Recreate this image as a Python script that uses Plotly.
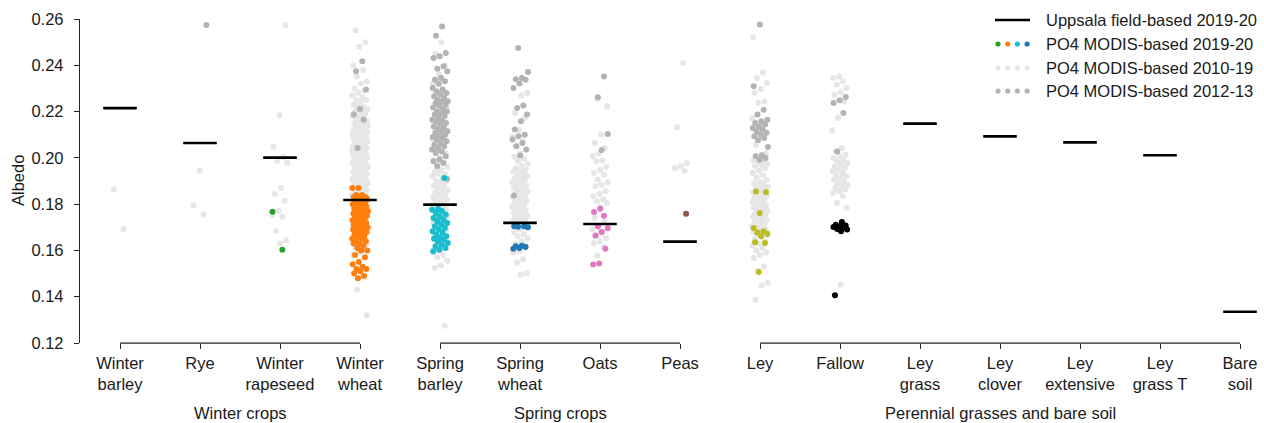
import numpy as np
import plotly.graph_objects as go

# ---------------- data ----------------
CATEGORIES = ["Winter<br>barley", "Rye", "Winter<br>rapeseed", "Winter<br>wheat",
              "Spring<br>barley", "Spring<br>wheat", "Oats", "Peas",
              "Ley", "Fallow", "Ley<br>grass", "Ley<br>clover", "Ley<br>extensive",
              "Ley<br>grass T", "Bare<br>soil"]
GROUP_LABELS = ["Winter crops", "Spring crops", "Perennial grasses and bare soil"]
GROUP_SPANS = [(0, 3), (4, 7), (8, 14)]

# Uppsala field-based 2019-20 (None = no field measurement)
FIELD_MEAN = [0.2215, 0.2064, 0.2001, 0.1818, 0.1798, 0.1719, 0.1714, 0.1638,
              None, None, 0.2148, 0.2093, 0.2067, 0.2011, 0.1335]

# PO4 MODIS-based 2010-19 (light grey)
WB_1019 = [0.1864, 0.1691]
RYE_1019 = [0.1945, 0.1795, 0.1754]
WR_1019 = [0.2574, 0.2184, 0.2048, 0.2004, 0.1988, 0.1979, 0.1870, 0.1844, 0.1814,
           0.1770, 0.1753, 0.1746, 0.1684, 0.1643, 0.1630]
WW_1019 = [0.255, 0.250, 0.248, 0.240, 0.238, 0.235, 0.233, 0.232, 0.230, 0.229, 0.228,
           0.227, 0.226, 0.225, 0.225, 0.224, 0.223, 0.222, 0.222, 0.221, 0.220, 0.220,
           0.219, 0.218, 0.218, 0.217, 0.217, 0.216, 0.216, 0.215, 0.215, 0.214, 0.214,
           0.214, 0.213, 0.213, 0.213, 0.212, 0.212, 0.212, 0.211, 0.211, 0.211, 0.210,
           0.210, 0.210, 0.209, 0.209, 0.209, 0.208, 0.208, 0.208, 0.207, 0.207, 0.207,
           0.206, 0.206, 0.206, 0.205, 0.205, 0.205, 0.204, 0.204, 0.204, 0.203, 0.203,
           0.203, 0.202, 0.202, 0.202, 0.201, 0.201, 0.201, 0.200, 0.200, 0.200, 0.199,
           0.199, 0.199, 0.198, 0.198, 0.198, 0.197, 0.197, 0.197, 0.196, 0.196, 0.196,
           0.195, 0.195, 0.195, 0.194, 0.194, 0.194, 0.193, 0.193, 0.193, 0.192, 0.192,
           0.192, 0.191, 0.191, 0.191, 0.190, 0.190, 0.190, 0.189, 0.189, 0.189, 0.188,
           0.188, 0.188, 0.187, 0.187, 0.187, 0.186, 0.186, 0.186, 0.185, 0.185, 0.184,
           0.184, 0.183, 0.182, 0.181, 0.180, 0.179, 0.178, 0.177, 0.176, 0.175, 0.174,
           0.173, 0.172, 0.171, 0.170, 0.169, 0.168, 0.167, 0.166, 0.165, 0.164, 0.163,
           0.162, 0.161, 0.160, 0.159, 0.158, 0.149, 0.143, 0.132]
SB_1019 = [0.250, 0.245, 0.240, 0.236, 0.232, 0.228, 0.225, 0.222, 0.219, 0.216, 0.213,
           0.210, 0.208, 0.206, 0.204, 0.202, 0.200, 0.199, 0.198, 0.197, 0.196, 0.195,
           0.194, 0.193, 0.193, 0.192, 0.191, 0.190, 0.190, 0.189, 0.188, 0.188, 0.187,
           0.186, 0.186, 0.185, 0.184, 0.184, 0.183, 0.183, 0.182, 0.182, 0.181, 0.181,
           0.180, 0.180, 0.179, 0.179, 0.178, 0.178, 0.177, 0.177, 0.176, 0.176, 0.175,
           0.175, 0.174, 0.174, 0.173, 0.172, 0.171, 0.170, 0.169, 0.168, 0.167, 0.166,
           0.165, 0.164, 0.163, 0.162, 0.161, 0.160, 0.159, 0.158, 0.157, 0.1555, 0.1535,
           0.1525, 0.1275]
SW_1019 = [0.2280, 0.2269, 0.2194, 0.2172, 0.2120, 0.2090, 0.2070, 0.2050, 0.2035, 0.2020,
           0.2005, 0.1995, 0.1985, 0.1975, 0.1965, 0.1955, 0.1950, 0.1945, 0.1940, 0.1930,
           0.1925, 0.1920, 0.1915, 0.1910, 0.1905, 0.1900, 0.1895, 0.1890, 0.1885, 0.1880,
           0.1875, 0.1870, 0.1865, 0.1860, 0.1855, 0.1850, 0.1845, 0.1840, 0.1835, 0.1830,
           0.1825, 0.1820, 0.1815, 0.1810, 0.1805, 0.1800, 0.1795, 0.1790, 0.1785, 0.1780,
           0.1775, 0.1770, 0.1765, 0.1760, 0.1755, 0.1750, 0.1745, 0.1740, 0.1735, 0.1730,
           0.1725, 0.1720, 0.1710, 0.1700, 0.1690, 0.1680, 0.1670, 0.1660, 0.1650, 0.1640,
           0.1630, 0.1620, 0.1596, 0.1590, 0.1562, 0.1547, 0.1503, 0.1496]
OAT_1019 = [0.2256, 0.2223, 0.2100, 0.2064, 0.2043, 0.2020, 0.2007, 0.1989, 0.1985,
            0.1960, 0.1949, 0.1935, 0.1927, 0.1906, 0.1895, 0.1884, 0.1877, 0.1856,
            0.1845, 0.1834, 0.1820, 0.1812, 0.1805, 0.1788, 0.1740, 0.1726, 0.1700,
            0.1690, 0.1678, 0.1661, 0.1654, 0.1640, 0.1632, 0.1615, 0.1578]
PEA_1019 = [0.2410, 0.2132, 0.1978, 0.1964, 0.1956, 0.1943]
LEY_1019 = [0.2521, 0.2370, 0.2345, 0.2323, 0.2298, 0.2280, 0.2244, 0.2237, 0.2172,
            0.2096, 0.2057, 0.2020, 0.1995, 0.1990, 0.1985, 0.1980, 0.1975, 0.1970,
            0.1965, 0.1955, 0.1945, 0.1935, 0.1925, 0.1915, 0.1905, 0.1895, 0.1890,
            0.1885, 0.1880, 0.1875, 0.1870, 0.1865, 0.1860, 0.1855, 0.1850, 0.1845,
            0.1840, 0.1835, 0.1830, 0.1825, 0.1820, 0.1815, 0.1810, 0.1805, 0.1800,
            0.1795, 0.1790, 0.1785, 0.1780, 0.1775, 0.1770, 0.1765, 0.1760, 0.1755,
            0.1750, 0.1745, 0.1740, 0.1735, 0.1730, 0.1725, 0.1720, 0.1715, 0.1710,
            0.1705, 0.1700, 0.1695, 0.1690, 0.1685, 0.1680, 0.1675, 0.1670, 0.1665,
            0.1660, 0.1650, 0.1640, 0.1630, 0.1620, 0.1610, 0.1600, 0.1590, 0.1580,
            0.1567, 0.1531, 0.1510, 0.1459, 0.1448, 0.1387]
FAL_1019 = [0.2352, 0.2345, 0.2331, 0.2316, 0.2302, 0.2283, 0.2273, 0.2244, 0.2172,
            0.2119, 0.2043, 0.2028, 0.2014, 0.2007, 0.1999, 0.1992, 0.1985, 0.1978,
            0.1971, 0.1963, 0.1956, 0.1949, 0.1942, 0.1935, 0.1927, 0.1920, 0.1913,
            0.1906, 0.1899, 0.1891, 0.1884, 0.1877, 0.1870, 0.1863, 0.1856, 0.1848,
            0.1834, 0.1805, 0.1784, 0.1452]

# PO4 MODIS-based 2012-13 (dark grey)
RYE_1213 = [0.2574]
WW_1213 = [0.2417, 0.2374, 0.2295, 0.2211, 0.2187, 0.2165, 0.2043]
SB_1213 = [0.2605, 0.2568, 0.2528, 0.2453, 0.2439, 0.2432, 0.2396, 0.2385, 0.2374,
           0.2345, 0.2338, 0.2331, 0.2320, 0.2302, 0.2295, 0.2288, 0.2280, 0.2275,
           0.2266, 0.2259, 0.2250, 0.2245, 0.2244, 0.2237, 0.2230, 0.2225, 0.2218,
           0.2208, 0.2200, 0.2200, 0.2194, 0.2187, 0.2180, 0.2172, 0.2165, 0.2160,
           0.2158, 0.2151, 0.2144, 0.2136, 0.2129, 0.2122, 0.2115, 0.2115, 0.2108,
           0.2100, 0.2093, 0.2090, 0.2086, 0.2079, 0.2072, 0.2064, 0.2057, 0.2050,
           0.2043, 0.2036, 0.2028, 0.2021, 0.2007, 0.1993, 0.1985, 0.1978, 0.1964,
           0.1909]
SW_1213 = [0.2475, 0.2371, 0.2345, 0.2340, 0.2338, 0.2321, 0.2302, 0.2226, 0.2215,
           0.2187, 0.2158, 0.2122, 0.2100, 0.2093, 0.2079, 0.2064, 0.2050, 0.2036,
           0.2010, 0.1837]
OAT_1213 = [0.2352, 0.2262, 0.2103, 0.2034]
LEY_1213 = [0.2576, 0.2309, 0.2208, 0.2187, 0.2165, 0.2158, 0.2151, 0.2144, 0.2136,
            0.2129, 0.2122, 0.2115, 0.2108, 0.2100, 0.2093, 0.2086, 0.2076, 0.2047,
            0.2011, 0.2007, 0.1999, 0.1992]
FAL_1213 = [0.2263, 0.2249, 0.2237, 0.2194, 0.2028]

# PO4 MODIS-based 2019-20 (coloured per crop)
WR_1920 = [0.1767, 0.1603]
WW_1920 = [0.187, 0.187, 0.184, 0.184, 0.183, 0.183, 0.183, 0.182, 0.182, 0.182, 0.181,
           0.181, 0.181, 0.180, 0.180, 0.180, 0.179, 0.179, 0.179, 0.178, 0.178, 0.178,
           0.177, 0.177, 0.177, 0.176, 0.176, 0.176, 0.175, 0.175, 0.175, 0.174, 0.174,
           0.174, 0.173, 0.173, 0.173, 0.172, 0.172, 0.172, 0.171, 0.171, 0.171, 0.170,
           0.170, 0.170, 0.169, 0.169, 0.169, 0.168, 0.168, 0.168, 0.167, 0.167, 0.166,
           0.166, 0.165, 0.165, 0.164, 0.164, 0.163, 0.163, 0.162, 0.161, 0.160, 0.160,
           0.158, 0.157, 0.155, 0.154, 0.153, 0.152, 0.152, 0.151, 0.150, 0.149, 0.148]
SB_1920 = [0.1913, 0.1780, 0.1776, 0.1770, 0.1762, 0.1755, 0.1748, 0.1740, 0.1733,
           0.1726, 0.1719, 0.1712, 0.1704, 0.1697, 0.1690, 0.1683, 0.1676, 0.1668,
           0.1661, 0.1654, 0.1650, 0.1647, 0.1640, 0.1632, 0.1625, 0.1618, 0.1610,
           0.1603, 0.1596]
SW_1920 = [0.1705, 0.1704, 0.1702, 0.1700, 0.1620, 0.1618, 0.1615, 0.1610, 0.1607]
OAT_1920 = [0.1780, 0.1766, 0.1750, 0.1704, 0.1696, 0.1680, 0.1665, 0.1607, 0.1543, 0.1539]
PEA_1920 = [0.1758]
LEY_1920 = [0.1855, 0.1851, 0.1762, 0.1697, 0.1683, 0.1678, 0.1672, 0.1661, 0.1635,
            0.1632, 0.1507]
FAL_1920 = [0.1723, 0.1711, 0.1708, 0.1704, 0.1701, 0.1697, 0.1693, 0.1690, 0.1683, 0.1406]

EMPTY = []
MODIS_1019 = [WB_1019, RYE_1019, WR_1019, WW_1019, SB_1019, SW_1019, OAT_1019, PEA_1019,
              LEY_1019, FAL_1019, EMPTY, EMPTY, EMPTY, EMPTY, EMPTY]
MODIS_1213 = [EMPTY, RYE_1213, EMPTY, WW_1213, SB_1213, SW_1213, OAT_1213, EMPTY,
              LEY_1213, FAL_1213, EMPTY, EMPTY, EMPTY, EMPTY, EMPTY]
MODIS_1920 = [EMPTY, EMPTY, WR_1920, WW_1920, SB_1920, SW_1920, OAT_1920, PEA_1920,
              LEY_1920, FAL_1920, EMPTY, EMPTY, EMPTY, EMPTY, EMPTY]
COLORS_1920 = [None, None, "#2ca02c", "#ff7f0e", "#17becf", "#1f77b4", "#e377c2",
               "#8c564b", "#bcbd22", "#000000", None, None, None, None, None]

# ---------------- style ----------------
FONT = "Liberation Sans, Arial, Helvetica, sans-serif"
FS = 16.5
TXT = "#1a1a1a"
AX = "#262626"
LIGHT = "#e6e6e6"
DARK = "#b3b3b3"
JW = 0.10          # jitter half-width (category units)
MSIZE = 6

W, H = 1264, 423
ML, MR, MT, MB = 80, 4, 19, 80
PW, PH = W - ML - MR, H - MT - MB


def px_x(px):
    return (px - ML) / PW


def px_y(py):
    return (H - MB - py) / PH


def jitter(n, seed):
    k = np.arange(n)
    return ((k * 0.6180339887 + seed) % 1.0 - 0.5) * 2 * JW


fig = go.Figure()


def add_strip(values_by_cat, color, seed):
    xs, ys = [], []
    for i, vals in enumerate(values_by_cat):
        if not vals:
            continue
        off = jitter(len(vals), seed + 0.37 * i)
        xs.extend((i + off).tolist())
        ys.extend(vals)
    fig.add_trace(go.Scatter(x=xs, y=ys, mode="markers",
                             marker=dict(color=color, size=MSIZE, line=dict(width=0)),
                             cliponaxis=False, hoverinfo="skip", showlegend=False))


add_strip(MODIS_1019, LIGHT, 0.11)
add_strip(MODIS_1213, DARK, 0.53)
for i, vals in enumerate(MODIS_1920):
    if vals:
        add_strip([EMPTY] * i + [vals], COLORS_1920[i], 0.29)

# field-based means
mx, my = [], []
for i, m in enumerate(FIELD_MEAN):
    if m is None:
        continue
    mx += [i - 0.21, i + 0.21, None]
    my += [m, m, None]
fig.add_trace(go.Scatter(x=mx, y=my, mode="lines", line=dict(color="black", width=2.6),
                         cliponaxis=False, hoverinfo="skip", showlegend=False))

# broken x axis line segments
shapes = []
for a, b in GROUP_SPANS:
    shapes.append(dict(type="line", xref="x", yref="paper", x0=a, x1=b, y0=0, y1=0,
                       line=dict(color=AX, width=1.25)))

annotations = []
for (a, b), lab in zip(GROUP_SPANS, GROUP_LABELS):
    annotations.append(dict(x=(a + b) / 2, xref="x", y=px_y(413), yref="paper",
                            text=lab, showarrow=False, xanchor="center", yanchor="middle",
                            font=dict(family=FONT, size=FS, color=TXT)))
annotations.append(dict(x=px_x(18), y=0.5, xref="paper", yref="paper", text="Albedo",
                        textangle=-90, showarrow=False, xanchor="center", yanchor="middle",
                        font=dict(family=FONT, size=FS, color=TXT)))

# manual legend
LEG_TEXT = ["Uppsala field-based 2019-20", "PO4 MODIS-based 2019-20",
            "PO4 MODIS-based 2010-19", "PO4 MODIS-based 2012-13"]
LEG_ROWS = [20, 44, 68, 91]
LEG_DOTS = [["#2ca02c", "#ff7f0e", "#17becf", "#1f77b4"], [LIGHT] * 4, [DARK] * 4]
shapes.append(dict(type="line", xref="paper", yref="paper", x0=px_x(995), x1=px_x(1030),
                   y0=px_y(LEG_ROWS[0]), y1=px_y(LEG_ROWS[0]),
                   line=dict(color="black", width=2.6)))
for r, cols in zip(LEG_ROWS[1:], LEG_DOTS):
    for j, c in enumerate(cols):
        shapes.append(dict(type="circle", xref="paper", yref="paper",
                           xsizemode="pixel", ysizemode="pixel",
                           xanchor=px_x(998 + 9.7 * j), yanchor=px_y(r),
                           x0=-2.6, x1=2.6, y0=-2.6, y1=2.6,
                           fillcolor=c, line=dict(width=0)))
for r, t in zip(LEG_ROWS, LEG_TEXT):
    annotations.append(dict(x=px_x(1044), y=px_y(r), xref="paper", yref="paper", text=t,
                            showarrow=False, xanchor="left", yanchor="middle",
                            font=dict(family=FONT, size=FS, color=TXT)))

fig.update_layout(
    width=W, height=H, margin=dict(l=ML, r=MR, t=MT, b=MB),
    paper_bgcolor="white", plot_bgcolor="white",
    font=dict(family=FONT, size=FS, color=TXT),
    shapes=shapes, annotations=annotations, showlegend=False,
)
fig.update_xaxes(range=[-0.5, -0.5 + PW / 80.0], tickmode="array",
                 tickvals=list(range(len(CATEGORIES))), ticktext=CATEGORIES,
                 ticks="outside", ticklen=5, tickwidth=1.25, tickcolor=AX,
                 showline=False, showgrid=False, zeroline=False,
                 tickfont=dict(family=FONT, size=FS, color=TXT))
fig.update_yaxes(range=[0.12, 0.26], tickmode="array",
                 tickvals=[0.12, 0.14, 0.16, 0.18, 0.20, 0.22, 0.24, 0.26],
                 tickformat=".2f", ticks="outside", ticklen=5, tickwidth=1.25,
                 tickcolor=AX, showline=True, linecolor=AX, linewidth=1.25,
                 showgrid=False, zeroline=False, ticklabelstandoff=7,
                 tickfont=dict(family=FONT, size=FS, color=TXT))

fig.write_html("out.html", config={"displayModeBar": False},
               post_script="document.body.style.margin='0px';"
                           "document.body.style.overflow='hidden';")
